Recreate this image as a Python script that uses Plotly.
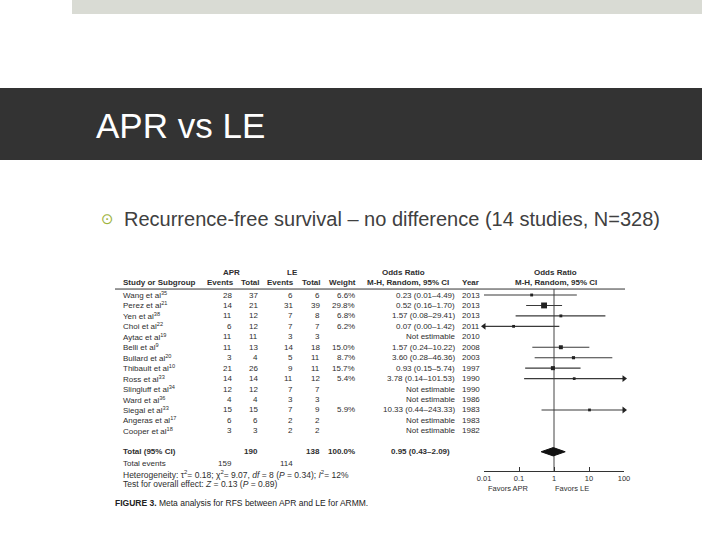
import plotly.graph_objects as go
import math

# ---------------- data ----------------
studies = ["Wang et al", "Perez et al", "Yen et al", "Choi et al", "Aytac et al",
           "Belli et al", "Bullard et al", "Thibault et al", "Ross et al",
           "Slingluff et al", "Ward et al", "Siegal et al", "Angeras et al", "Cooper et al"]
refs = ["35", "21", "38", "22", "19", "9", "20", "10", "33", "34", "36", "33", "17", "18"]
apr_events = [28, 14, 11, 6, 11, 11, 3, 21, 14, 12, 4, 15, 6, 3]
apr_total = [37, 21, 12, 12, 11, 13, 4, 26, 14, 12, 4, 15, 6, 3]
le_events = [6, 31, 7, 7, 3, 14, 5, 9, 11, 7, 3, 7, 2, 2]
le_total = [6, 39, 8, 7, 3, 18, 11, 11, 12, 7, 3, 9, 2, 2]
weights = [6.6, 29.8, 6.8, 6.2, None, 15.0, 8.7, 15.7, 5.4, None, None, 5.9, None, None]
odds = [0.23, 0.52, 1.57, 0.07, None, 1.57, 3.60, 0.93, 3.78, None, None, 10.33, None, None]
ci_low = [0.01, 0.16, 0.08, 0.00, None, 0.24, 0.28, 0.15, 0.14, None, None, 0.44, None, None]
ci_high = [4.49, 1.70, 29.41, 1.42, None, 10.22, 46.36, 5.74, 101.53, None, None, 243.33, None, None]
years = [2013, 2013, 2013, 2011, 2010, 2008, 2003, 1997, 1990, 1990, 1986, 1983, 1983, 1982]

total_apr, total_le = 190, 138
events_apr, events_le = 159, 114
pooled = [0.95, 0.43, 2.09]
tick_vals = [0.01, 0.1, 1, 10, 100]
tick_text = ["0.01", "0.1", "1", "10", "100"]

W, H = 720, 540
ROW0, ROWH = 295.0, 10.45   # pixel y of first row and row spacing
XMIN, XMAX = 0.01, 100

fig = go.Figure()

# reference line at OR = 1
fig.add_trace(go.Scatter(x=[1, 1], y=[-0.57, 16.84], mode="lines",
                         line=dict(color="#444", width=1), hoverinfo="skip"))

# study CIs and squares
for i, o in enumerate(odds):
    if o is None:
        continue
    lo = max(ci_low[i], XMIN)
    hi = min(ci_high[i], XMAX)
    fig.add_trace(go.Scatter(x=[lo, hi], y=[i, i], mode="lines",
                             line=dict(color="#3a3a3a", width=1.1), hoverinfo="skip"))
    if ci_low[i] < XMIN:
        fig.add_trace(go.Scatter(x=[XMIN], y=[i], mode="markers", cliponaxis=False,
                                 marker=dict(symbol="triangle-left", size=6, color="#222")))
    if ci_high[i] > XMAX:
        fig.add_trace(go.Scatter(x=[XMAX], y=[i], mode="markers", cliponaxis=False,
                                 marker=dict(symbol="triangle-right", size=6, color="#222")))
    fig.add_trace(go.Scatter(x=[o], y=[i], mode="markers", cliponaxis=False,
                             marker=dict(symbol="square", size=2 + weights[i] * 0.13,
                                         color="#222", line=dict(width=0))))

# pooled diamond
TR = len(studies) + 1
fig.add_trace(go.Scatter(x=[pooled[1], pooled[0], pooled[2], pooled[0], pooled[1]],
                         y=[TR, TR - 0.4, TR, TR + 0.4, TR], mode="lines", fill="toself",
                         fillcolor="#111", line=dict(color="#111", width=1), hoverinfo="skip"))

ann = []
FONT = "Liberation Sans, Arial, sans-serif"
TC = "#2e2e2e"


def txt(xpx, row, text, anchor="left", size=8, color=TC, bold=False):
    if bold:
        text = "<b>" + text + "</b>"
    ann.append(dict(x=xpx / W, xref="paper", y=row, yref="y", text=text, showarrow=False,
                    xanchor=anchor, yanchor="middle",
                    font=dict(family=FONT, size=size, color=color)))


# headers
txt(231, -2.2, "APR", "center", bold=True)
txt(292, -2.2, "LE", "center", bold=True)
txt(403, -2.2, "Odds Ratio", "center", bold=True)
txt(555, -2.2, "Odds Ratio", "center", bold=True)
txt(121, -1.15, "Study or Subgroup", "left", bold=True)
txt(236, -1.15, "Events", "right", bold=True)
txt(262, -1.15, "Total", "right", bold=True)
txt(296, -1.15, "Events", "right", bold=True)
txt(323, -1.15, "Total", "right", bold=True)
txt(358, -1.15, "Weight", "right", bold=True)
txt(408, -1.15, "M-H, Random, 95% CI", "center", bold=True)
txt(460, -1.15, "Year", "left", bold=True)
txt(556, -1.15, "M-H, Random, 95% CI", "center", bold=True)

for i, s in enumerate(studies):
    txt(121, i, s + "<sup>" + refs[i] + "</sup>")
    txt(234, i, str(apr_events[i]), "right")
    txt(260, i, str(apr_total[i]), "right")
    txt(295, i, str(le_events[i]), "right")
    txt(322, i, str(le_total[i]), "right")
    if weights[i] is not None:
        txt(357, i, f"{weights[i]:.1f}%", "right")
        txt(457, i, f"{odds[i]:.2f} ({ci_low[i]:.2f}\u2013{ci_high[i]:.2f})", "right")
    else:
        txt(457, i, "Not estimable", "right")
    txt(460, i, str(years[i]), "left")

txt(121, TR, "Total (95% CI)", bold=True)
txt(260, TR, str(total_apr), "right", bold=True)
txt(322, TR, str(total_le), "right", bold=True)
txt(357, TR, "100.0%", "right", bold=True)
txt(452, TR, f"{pooled[0]:.2f} ({pooled[1]:.2f}\u2013{pooled[2]:.2f})", "right", bold=True)
txt(121, 16.17, "Total events")
txt(234, 16.17, str(events_apr), "right")
txt(295, 16.17, str(events_le), "right")
txt(121, 17.13, "Heterogeneity: \u03c4<sup>2</sup>= 0.18; \u03c7<sup>2</sup>= 9.07, <i>df</i> = 8 (<i>P</i> = 0.34); <i>I</i><sup>2</sup>= 12%", size=8.5)
txt(121, 18.09, "Test for overall effect: <i>Z</i> = 0.13 (<i>P</i> = 0.89)", size=8.5)
txt(508, 16.84 + 17.5 / ROWH, "Favors APR", "center", size=7.5)
txt(572, 16.84 + 17.5 / ROWH, "Favors LE", "center", size=7.5)
txt(113, (503 - ROW0) / ROWH,
    "<b>FIGURE 3.</b> Meta analysis for RFS between APR and LE for ARMM.",
    size=8.5, color="#222")

# slide title and bullet
ann.append(dict(x=94 / W, xref="paper", y=1 - 125 / H, yref="paper", text="APR vs LE",
                showarrow=False, xanchor="left", yanchor="middle",
                font=dict(family=FONT, size=35, color="white")))
ann.append(dict(x=99 / W, xref="paper", y=1 - 219 / H, yref="paper", text="\u2299",
                showarrow=False, xanchor="left", yanchor="middle",
                font=dict(family="DejaVu Sans", size=15, color="#9db33d")))
ann.append(dict(x=122 / W, xref="paper", y=1 - 219 / H, yref="paper",
                text="Recurrence-free survival \u2013 no difference (14 studies, N=328)",
                showarrow=False, xanchor="left", yanchor="middle",
                font=dict(family=FONT, size=20, color="#404040")))

shapes = [
    dict(type="rect", xref="paper", yref="paper", x0=72 / W, x1=702 / W, y0=1 - 14 / H, y1=1,
         fillcolor="#d9dbd4", line=dict(width=0), layer="below"),
    dict(type="rect", xref="paper", yref="paper", x0=0, x1=702 / W, y0=1 - 160 / H, y1=1 - 88 / H,
         fillcolor="#333333", line=dict(width=0), layer="below"),
    dict(type="line", xref="paper", yref="y", x0=115 / W, x1=625 / W, y0=-0.57, y1=-0.57,
         line=dict(color="#333", width=1)),
]

fig.update_layout(
    width=W, height=H, margin=dict(l=0, r=0, t=0, b=0, pad=0, autoexpand=False),
    paper_bgcolor="white", plot_bgcolor="rgba(0,0,0,0)",
    showlegend=False, annotations=ann, shapes=shapes,
    xaxis=dict(type="log", range=[math.log10(XMIN), math.log10(XMAX)],
               domain=[484 / W, 624 / W], anchor="free", position=1 - 471 / H,
               showline=True, linecolor="#333", linewidth=1, showgrid=False, zeroline=False,
               ticks="inside", ticklen=4, tickcolor="#333", tickwidth=1,
               tickvals=tick_vals, ticktext=tick_text, automargin=False,
               tickfont=dict(family=FONT, size=7.5, color=TC)),
    yaxis=dict(domain=[0, 1], range=[(H - ROW0) / ROWH, -ROW0 / ROWH], visible=False,
               automargin=False),
)

fig.write_html("out.html", config={"displayModeBar": False},
               post_script="document.documentElement.style.margin='0';"
                           "document.body.style.margin='0';"
                           "document.body.style.padding='0';"
                           "document.body.style.overflow='hidden';")
